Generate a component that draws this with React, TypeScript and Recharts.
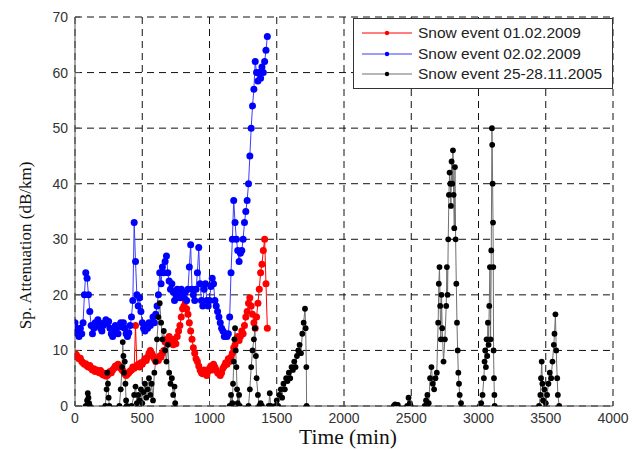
import React from 'react';
import { LineChart, Line, XAxis, YAxis, CartesianGrid, Legend } from 'recharts';

// readings every 10 min, starting at t = 0
const STEP = 10;

const redValues = [
  9.5, 9.2, 8.8, 8.5, 8.6, 8.0, 7.8, 7.5, 7.6, 7.2,
  7.0, 7.3, 6.8, 6.5, 6.7, 6.2, 6.5, 6.3, 6.0, 6.4,
  5.8, 5.6, 5.9, 5.4, 5.5, 5.8, 6.2, 6.0, 6.5, 6.8,
  7.2, 7.0, 7.5, 7.2, 6.8, 6.5, 6.2, 5.8, 5.5, 5.7,
  6.0, 6.3, 6.5, 7.0, 6.8, 14.5, 7.2, 7.5, 7.0, 7.8,
  7.5, 8.0, 8.5, 8.2, 8.8, 9.5, 10.0, 9.5, 9.0, 8.5,
  8.0, 8.5, 8.2, 9.0, 8.8, 9.5, 10.0, 11.5, 12.0, 11.5,
  12.5, 12.0, 11.5, 11.0, 12.0, 11.2, 12.5, 13.5, 14.5, 16.0,
  17.5, 18.0, 18.8, 17.5, 16.5, 15.0, 13.5, 12.0, 10.5, 9.5,
  8.5, 8.0, 7.2, 6.5, 6.0, 5.8, 6.5, 6.0, 5.5, 6.2,
  6.8, 7.2, 6.5, 7.5, 7.0, 6.5, 6.0, 5.8, 5.5, 6.0,
  6.8, 7.2, 7.8, 7.5, 8.5, 8.0, 8.8, 9.5, 10.5, 11.0,
  12.0, 12.5, 11.8, 12.5, 13.5, 13.0, 14.5, 16.0, 17.0, 18.5,
  19.5, 18.0, 16.5, 15.0, 14.0, 16.0, 18.5, 21.0, 24.0, 25.5,
  28.0, 30.0, 22.0, 14.0,
];

const blueValues = [
  15, 14, 13, 12.5, 14, 13, 15, 20, 24, 23,
  20, 17, 14.5, 13, 14, 15, 14.5, 15.5, 15, 14,
  13.5, 14.5, 15, 15.5, 14.8, 15.2, 14, 13, 12.5, 13.5,
  14.5, 14, 13, 14.5, 15, 14.2, 15, 14, 13, 12.5,
  13.2, 14.5, 16, 19, 33, 26, 20, 18, 19.5, 17,
  15, 14, 13.5, 14.5, 14, 15, 14.5, 15, 16, 15,
  16.5, 18, 20, 24, 22, 25, 24, 26, 27, 24,
  22.5, 21, 22, 20.5, 19, 20, 21, 20, 19.5, 21,
  20, 19.5, 20.5, 19, 21, 25, 29, 21, 20, 19,
  21, 24, 28.5, 22, 19, 18, 21, 22, 19, 18,
  19, 21.5, 23, 22, 19, 18, 17, 16, 15, 14,
  13.5, 12.5, 13, 12.5, 13, 16, 24, 30, 37, 33,
  30, 28, 26, 27.5, 28, 30, 33, 35, 37, 40,
  45, 50, 54, 57, 62, 60, 58.5, 60, 59, 61,
  60, 62, 64, 66.5,
];

// [time (min), attenuation]; null breaks the trace between bursts
const blackPoints: Array<[number, number | null]> = [
  [80, 0], [90, 1], [95, 2.3], [100, 1.5], [105, 0.5], [110, 0], [150, null],
  [225, 0], [235, 3], [240, 6], [245, 4], [250, 1.5], [255, 0], [290, null],
  [330, 0], [340, 3], [350, 7], [355, 11.5], [360, 9], [365, 6], [370, 8], [375, 4], [380, 1], [385, 0], [400, null],
  [420, 0], [440, 2], [450, 3.5], [460, 0.5], [470, 2], [480, 1], [490, 3], [500, 0.5], [510, 2.5],
  [520, 4], [530, 1.5], [540, 3], [550, 5], [560, 2], [570, 4], [580, 1], [590, 6], [600, 8],
  [610, 12], [620, 16], [630, 18.5], [640, 15], [650, 12], [660, 13.5], [670, 10], [680, 8],
  [690, 11], [700, 6], [710, 4], [720, 5], [730, 2], [740, 3.5], [745, 0.5], [800, null],
  [1150, 0], [1160, 2], [1170, 0.5], [1175, 4], [1180, 8], [1185, 12], [1190, 14], [1195, 10],
  [1200, 7], [1205, 3], [1210, 0.5], [1220, 2], [1225, 0], [1260, null],
  [1290, 0], [1300, 3], [1310, 7], [1320, 10], [1330, 12], [1338, 14], [1345, 9], [1350, 5],
  [1360, 2], [1370, 0], [1380, 0.5], [1390, 0], [1420, null],
  [1440, 0], [1448, 2.3], [1455, 0], [1470, null],
  [1490, 0], [1500, 1], [1510, 0], [1520, 2], [1530, 3], [1540, 1.5], [1550, 4], [1560, 3],
  [1570, 5], [1580, 4.5], [1590, 6], [1600, 5], [1610, 7], [1620, 6.5], [1630, 8], [1640, 7],
  [1650, 9], [1660, 10], [1670, 11], [1680, 9.5], [1690, 13], [1700, 15], [1710, 17.5],
  [1715, 14], [1720, 7], [1722, 0], [1800, null],
  [2370, 0], [2380, 0.3], [2390, 0], [2400, 0.2], [2430, null],
  [2470, 0], [2480, 1.5], [2490, 0.5], [2495, 0], [2550, null],
  [2600, 0], [2610, 1], [2620, 2], [2630, 0.5], [2640, 5], [2650, 7], [2660, 4], [2670, 3],
  [2680, 5], [2690, 6], [2700, 15], [2705, 22], [2710, 25], [2715, 18], [2720, 12], [2725, 20],
  [2730, 14], [2740, 8], [2750, 12], [2760, 18], [2765, 25], [2770, 20], [2775, 30], [2780, 38],
  [2785, 42], [2790, 40], [2795, 36], [2800, 44], [2805, 40], [2810, 46], [2815, 38], [2820, 32],
  [2825, 43], [2830, 30], [2835, 22], [2840, 15], [2845, 10], [2850, 6], [2855, 4], [2860, 2],
  [2870, 0.5], [2950, null],
  [3010, 0], [3020, 0.5], [3030, 2], [3040, 5], [3045, 8], [3050, 10], [3055, 7], [3060, 12],
  [3065, 9], [3070, 15], [3075, 11], [3080, 18], [3085, 25], [3090, 12], [3095, 28], [3100, 50],
  [3102, 47], [3105, 40], [3108, 33], [3110, 25], [3112, 10], [3115, 5], [3118, 2], [3120, 0], [3300, null],
  [3450, 0], [3460, 2], [3465, 5], [3470, 8], [3475, 4], [3480, 1], [3490, 3], [3500, 0.5],
  [3510, 2], [3520, 4], [3530, 6], [3540, 5], [3550, 8], [3560, 11], [3565, 13], [3572, 16.5],
  [3578, 10], [3585, 5], [3590, 2], [3600, 0],
];

const xTicks = [0, 500, 1000, 1500, 2000, 2500, 3000, 3500, 4000];
const yTicks = [0, 10, 20, 30, 40, 50, 60, 70];

const redData = redValues.map((v, i) => ({ t: i * STEP, v }));
const blueData = blueValues.map((v, i) => ({ t: i * STEP, v }));
const blackData = blackPoints.map(([t, v]) => ({ t, v }));

const series = [
  { name: 'Snow event 01.02.2009', data: redData, line: '#ff0000', dot: '#ff0000', r: 3.5 },
  { name: 'Snow event 02.02.2009', data: blueData, line: '#3b3bff', dot: '#0000ff', r: 3.5 },
  { name: 'Snow event 25-28.11.2005', data: blackData, line: '#707070', dot: '#000000', r: 2.9 },
];

const sans = '"Liberation Sans", Arial, sans-serif';
const serif = '"Liberation Serif", "Times New Roman", serif';
const frame = '#555';

const BottomTick = (props: any) => {
  const { x, y, payload } = props;
  return (
    <g>
      <line x1={x} x2={x} y1={y - 6} y2={y - 11} stroke={frame} />
      <text x={x} y={y} dy="0.75em" textAnchor="middle" fontSize={14} fontFamily={sans} fill="#333">
        {payload.value}
      </text>
    </g>
  );
};

const LeftTick = (props: any) => {
  const { x, y, payload } = props;
  return (
    <g>
      <line x1={x + 7} x2={x + 12} y1={y} y2={y} stroke={frame} />
      <text x={x} y={y} dy="0.36em" textAnchor="end" fontSize={14} fontFamily={sans} fill="#333">
        {payload.value}
      </text>
    </g>
  );
};

const TopTick = (props: any) => {
  const { x, y } = props;
  return <line x1={x} x2={x} y1={y} y2={y + 5} stroke={frame} />;
};

const RightTick = (props: any) => {
  const { x, y } = props;
  return <line x1={x} x2={x - 5} y1={y} y2={y} stroke={frame} />;
};

const XLabel = (props: any) => {
  const { viewBox } = props;
  const cx = viewBox.x + viewBox.width / 2 + 4;
  const cy = viewBox.y + 31;
  return (
    <text x={cx} y={cy} textAnchor="middle" dominantBaseline="central" fontSize={21.5} fontFamily={serif} fill="#111">
      Time (min)
    </text>
  );
};

const YLabel = (props: any) => {
  const { viewBox } = props;
  const cx = viewBox.x + 25;
  const cy = viewBox.y + viewBox.height / 2 + 34;
  return (
    <text
      x={cx}
      y={cy}
      transform={`rotate(-90 ${cx} ${cy})`}
      textAnchor="middle"
      dominantBaseline="central"
      fontSize={17}
      fontFamily={serif}
      fill="#111"
    >
      Sp. Attenuation (dB/km)
    </text>
  );
};

const LegendBox = () => (
  <div
    style={{
      border: '1px solid #333',
      background: '#fff',
      padding: '4px 0 3px 0',
      fontFamily: sans,
      fontSize: 15.5,
      color: '#222',
    }}
  >
    {series.map((s) => (
      <div key={s.name} style={{ display: 'flex', alignItems: 'center', height: 20.5 }}>
        <svg width={64} height={10} style={{ flex: 'none' }}>
          <line x1={8} x2={58} y1={5} y2={5} stroke={s.line} strokeWidth={1.2} />
          <circle cx={33} cy={5} r={2.2} fill={s.dot} />
        </svg>
        <span style={{ whiteSpace: 'nowrap' }}>{s.name}</span>
      </div>
    ))}
  </div>
);

export default function App() {
  return (
    <div style={{ position: 'absolute', left: 0, top: 0, width: 639, height: 450, background: '#fff' }}>
      <LineChart width={639} height={450} margin={{ top: 17, right: 26, bottom: 0, left: 0 }}>
        <CartesianGrid stroke="#111" strokeDasharray="7 5" />
        <XAxis
          type="number"
          dataKey="t"
          domain={[0, 4000]}
          ticks={xTicks}
          allowDataOverflow
          height={44}
          tickSize={0}
          tickMargin={6}
          tickLine={false}
          stroke={frame}
          tick={<BottomTick />}
          label={<XLabel />}
        />
        <XAxis
          xAxisId="top"
          orientation="top"
          type="number"
          domain={[0, 4000]}
          ticks={xTicks}
          height={0}
          tickSize={0}
          tickMargin={0}
          tickLine={false}
          stroke={frame}
          tick={<TopTick />}
        />
        <YAxis
          type="number"
          domain={[0, 70]}
          ticks={yTicks}
          allowDataOverflow
          width={75}
          tickSize={0}
          tickMargin={7}
          tickLine={false}
          stroke={frame}
          tick={<LeftTick />}
          label={<YLabel />}
        />
        <YAxis
          yAxisId="right"
          orientation="right"
          type="number"
          domain={[0, 70]}
          ticks={yTicks}
          width={0}
          tickSize={0}
          tickMargin={0}
          tickLine={false}
          stroke={frame}
          tick={<RightTick />}
        />
        {series.map((s) => (
          <Line
            key={s.name}
            name={s.name}
            data={s.data}
            dataKey="v"
            type="linear"
            stroke={s.line}
            strokeWidth={1}
            dot={{ r: s.r, fill: s.dot, stroke: s.dot, strokeWidth: 0 }}
            activeDot={false}
            isAnimationActive={false}
          />
        ))}
        <Legend
          layout="vertical"
          align="center"
          verticalAlign="middle"
          content={<LegendBox />}
          wrapperStyle={{ top: 18, left: 353, width: 260, height: 68, right: 'auto', bottom: 'auto' }}
        />
      </LineChart>
    </div>
  );
}
